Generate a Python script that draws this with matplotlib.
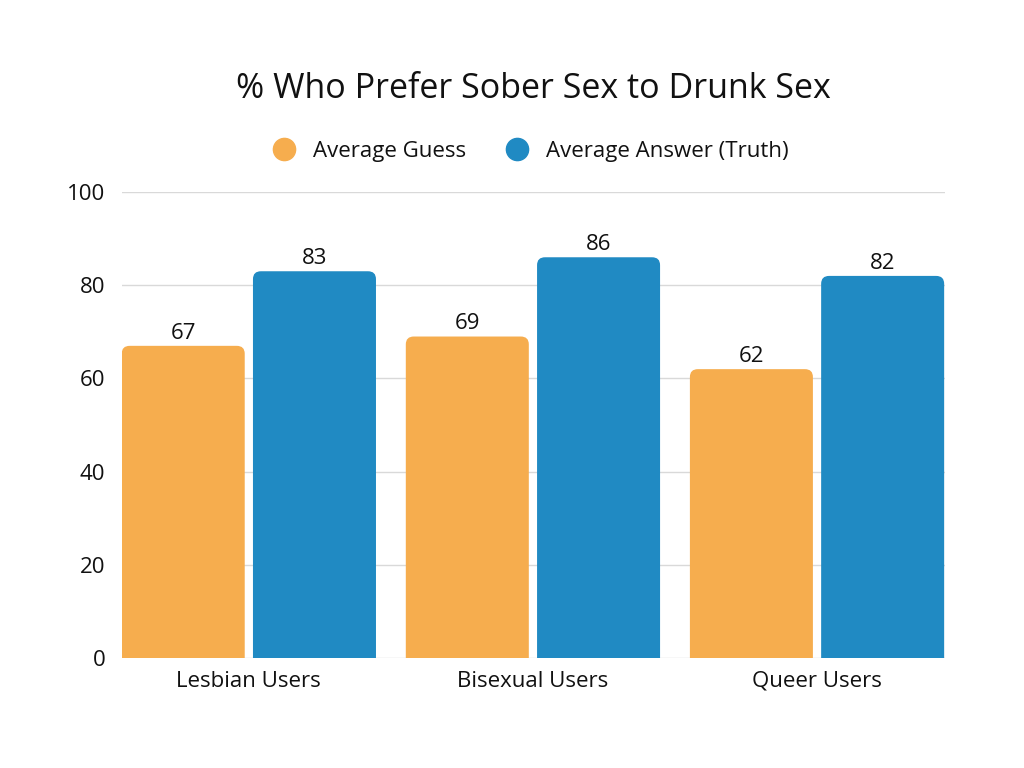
import matplotlib

matplotlib.use("Agg")
import matplotlib.pyplot as plt
import numpy as np
from matplotlib.lines import Line2D
from matplotlib.patches import FancyBboxPatch

plt.rcParams["font.family"] = ["Open Sans", "DejaVu Sans"]

categories = ["Lesbian Users", "Bisexual Users", "Queer Users"]
guess = [67, 69, 62]
truth = [83, 86, 82]
series_names = ["Average Guess", "Average Answer (Truth)"]
colors = ["#F6AD4E", "#208AC3"]
yticks = [0, 20, 40, 60, 80, 100]

fig = plt.figure(figsize=(10.24, 7.68), dpi=100)
ax = fig.add_axes([0.119, 0.143, 0.804, 0.607])

x = np.arange(len(categories))
width = 0.433
offset = 0.231

for vals, off, col in [(guess, -offset, colors[0]), (truth, offset, colors[1])]:
    bars = ax.bar(x + off, vals, width, color=col, zorder=2)
    ax.bar_label(bars, padding=1.5, fontsize=16, color="#111111")
    # swap plain rectangles for rounded-top versions
    for b in bars:
        b.set_visible(False)
        patch = FancyBboxPatch(
            (b.get_x(), -10), b.get_width(), b.get_height() + 10,
            boxstyle="round,pad=0,rounding_size=0.028",
            mutation_aspect=60, facecolor=col, edgecolor="none", zorder=2,
        )
        ax.add_patch(patch)

ax.set_xlim(-0.447, 2.451)
ax.set_ylim(0, 100)
ax.set_yticks(yticks)
ax.set_xticks(x, categories)
ax.grid(axis="y", color="#d9d9d9", linewidth=1, zorder=0)
ax.set_axisbelow(True)
for s in ax.spines.values():
    s.set_visible(False)
ax.tick_params(axis="both", length=0, labelsize=16, colors="#111111")
ax.tick_params(axis="y", pad=12)
ax.tick_params(axis="x", pad=9)

fig.text(0.521, 0.884, "% Who Prefer Sober Sex to Drunk Sex", ha="center", va="center",
         fontsize=24.5, color="#111111")

handles = [Line2D([], [], marker="o", linestyle="none", markersize=16, color=c) for c in colors]
fig.legend(handles, series_names, loc="center", bbox_to_anchor=(0.513, 0.803), ncol=2,
           frameon=False, fontsize=16, handletextpad=0.3, columnspacing=1.3,
           labelcolor="#111111")

fig.savefig("out.png", dpi=100)
